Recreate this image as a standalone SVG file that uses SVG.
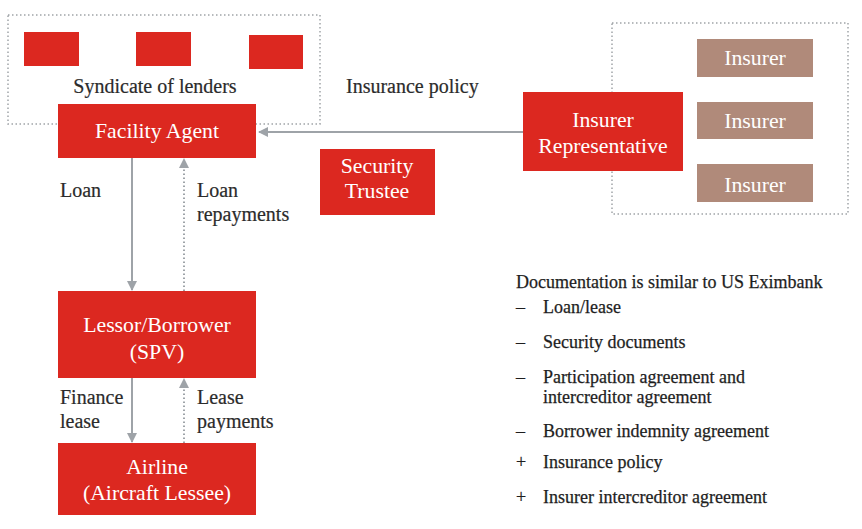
<svg xmlns="http://www.w3.org/2000/svg" width="862" height="529" viewBox="0 0 862 529">
<defs>
<style>
.red{fill:#dc2820}
.brown{fill:#b08a7a}
.dot{fill:none;stroke:#a0a4a8;stroke-width:1.5;stroke-dasharray:1.5 2.5}
.wt{font-family:"Liberation Serif",serif;fill:#fff;font-size:21.8px;text-anchor:middle}
.bt{font-family:"Liberation Serif",serif;fill:#2b2b2b;font-size:20px;stroke:#2b2b2b;stroke-width:0.2}
.dt{font-family:"Liberation Serif",serif;fill:#1e1e1e;font-size:18px;stroke:#1e1e1e;stroke-width:0.25}
.ln{stroke:#9ea3a8;stroke-width:2;fill:none}
.lnd{stroke:#9ea3a8;stroke-width:2;fill:none;stroke-dasharray:1.5 2.5}
.mk{fill:#9ea3a8}
</style>
<marker id="ah" viewBox="0 0 10 10" refX="9" refY="5" markerWidth="5" markerHeight="5" orient="auto" markerUnits="strokeWidth">
<path d="M0,0 L10,5 L0,10 z" class="mk"/>
</marker>
</defs>
<rect width="862" height="529" fill="#fff"/>

<g id="syndicate">
<rect x="8" y="15" width="312" height="109" class="dot"/>
<rect x="24" y="32" width="55" height="34" class="red"/>
<rect x="136" y="32" width="55" height="34" class="red"/>
<rect x="249" y="35" width="54" height="34" class="red"/>
<text x="155" y="93" class="bt" text-anchor="middle">Syndicate of lenders</text>
</g>

<g id="insurers">
<rect x="612" y="23" width="236" height="191" class="dot"/>
<rect x="697" y="39" width="116" height="38" class="brown"/>
<text x="755" y="65" class="wt">Insurer</text>
<rect x="697" y="102" width="116" height="37" class="brown"/>
<text x="755" y="128" class="wt">Insurer</text>
<rect x="697" y="164" width="116" height="38" class="brown"/>
<text x="755" y="192" class="wt">Insurer</text>
</g>

<g id="connectors">
<line x1="523" y1="132" x2="259" y2="132" class="ln" marker-end="url(#ah)"/>
<line x1="132" y1="158" x2="132" y2="290" class="ln" marker-end="url(#ah)"/>
<line x1="184" y1="291" x2="184" y2="159" class="lnd" marker-end="url(#ah)"/>
<line x1="132" y1="378" x2="132" y2="442" class="ln" marker-end="url(#ah)"/>
<line x1="184" y1="443" x2="184" y2="379" class="lnd" marker-end="url(#ah)"/>
</g>

<g id="facility-agent">
<rect x="58" y="104" width="198" height="54" class="red"/>
<text x="157" y="138" class="wt">Facility Agent</text>
</g>

<g id="insurer-representative">
<rect x="523" y="92" width="160" height="79" class="red"/>
<text x="603" y="127" class="wt">Insurer</text>
<text x="603" y="153" class="wt">Representative</text>
</g>

<g id="security-trustee">
<rect x="320" y="149" width="115" height="66" class="red"/>
<text x="377" y="173" class="wt">Security</text>
<text x="377" y="198" class="wt">Trustee</text>
</g>

<g id="lessor">
<rect x="58" y="291" width="198" height="87" class="red"/>
<text x="157" y="332" class="wt">Lessor/Borrower</text>
<text x="157" y="359" class="wt">(SPV)</text>
</g>

<g id="airline">
<rect x="58" y="443" width="198" height="72" class="red"/>
<text x="157" y="474" class="wt">Airline</text>
<text x="157" y="500" class="wt">(Aircraft Lessee)</text>
</g>

<g id="labels">
<text x="346" y="93" class="bt">Insurance policy</text>
<text x="60" y="197" class="bt">Loan</text>
<text x="197" y="197" class="bt">Loan</text>
<text x="197" y="221" class="bt">repayments</text>
<text x="60" y="404" class="bt">Finance</text>
<text x="60" y="428" class="bt">lease</text>
<text x="197" y="404" class="bt">Lease</text>
<text x="197" y="428" class="bt">payments</text>
</g>

<g id="documentation">
<text x="516" y="288" class="dt">Documentation is similar to US Eximbank</text>
<text x="516" y="313" class="dt">–</text>
<text x="543" y="313" class="dt">Loan/lease</text>
<text x="516" y="348" class="dt">–</text>
<text x="543" y="348" class="dt">Security documents</text>
<text x="516" y="383" class="dt">–</text>
<text x="543" y="383" class="dt">Participation agreement and</text>
<text x="543" y="403" class="dt">intercreditor agreement</text>
<text x="516" y="437" class="dt">–</text>
<text x="543" y="437" class="dt">Borrower indemnity agreement</text>
<text x="516" y="468" class="dt">+</text>
<text x="543" y="468" class="dt">Insurance policy</text>
<text x="516" y="503" class="dt">+</text>
<text x="543" y="503" class="dt">Insurer intercreditor agreement</text>
</g>
</svg>
